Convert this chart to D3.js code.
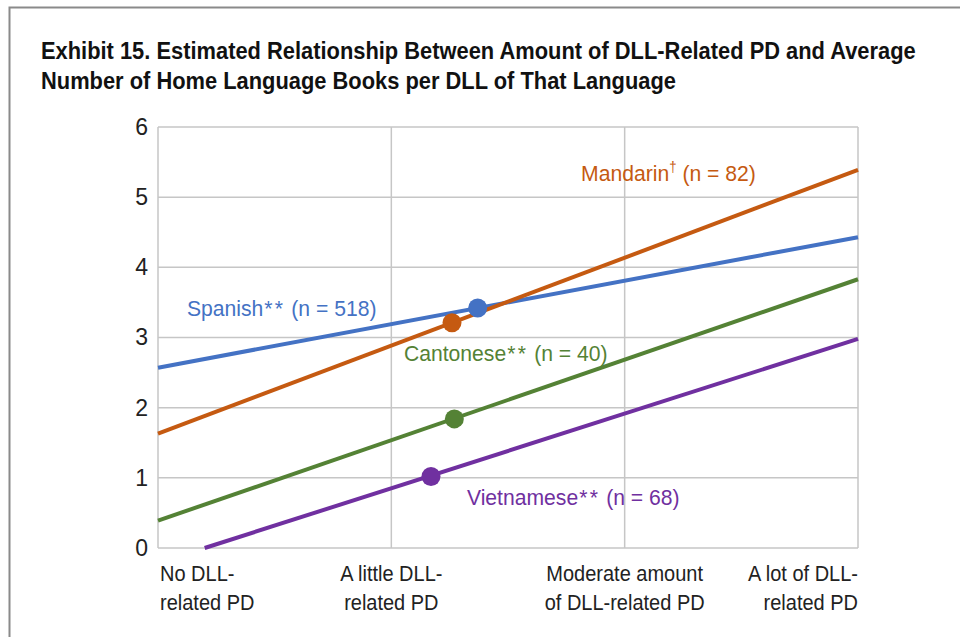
<!DOCTYPE html>
<html>
<head>
<meta charset="utf-8">
<script src="https://cdn.jsdelivr.net/npm/d3@7"></script>
<style>
  body { margin: 0; background: #fff; }
  svg { display: block; }
  text { font-family: "Liberation Sans", Arial, sans-serif; }
</style>
</head>
<body>
<div id="chart"></div>
<script>
const categories = ["No DLL-|related PD", "A little DLL-|related PD", "Moderate amount|of DLL-related PD", "A lot of DLL-|related PD"];
const yTicks = [0, 1, 2, 3, 4, 5, 6];

const seriesNames = ["Spanish", "Mandarin", "Cantonese", "Vietnamese"];
const seriesLabels = ["Spanish** (n = 518)", "Mandarin† (n = 82)", "Cantonese** (n = 40)", "Vietnamese** (n = 68)"];
const seriesColors = ["#4472C4", "#C55A11", "#548235", "#7030A0"];
// line start / end points [x, y], x on 0..3 category scale
const lineStart = [[0, 2.57], [0, 1.63], [0, 0.39], [0.2, 0]];
const lineEnd = [[3, 4.43], [3, 5.39], [3, 3.83], [3, 2.98]];
// sample-average markers
const dotPoints = [[1.37, 3.42], [1.26, 3.21], [1.27, 1.84], [1.17, 1.02]];
// label anchor positions (data units)
const labelPos = [[0.124, 3.3], [1.813, 5.23], [1.054, 2.665], [1.324, 0.613]];

const W = 960, H = 637;
const margin = { top: 127, right: 102, bottom: 89, left: 158 };
const width = W - margin.left - margin.right;
const height = H - margin.top - margin.bottom;
const narrow = 0.93; // horizontal squeeze to mimic the condensed face

const svg = d3.select("#chart").append("svg")
    .attr("width", W)
    .attr("height", H);

// outer frame (top and left edges)
svg.append("path")
    .attr("d", `M9.5,${H} L9.5,7.5 L${W},7.5`)
    .attr("fill", "none")
    .attr("stroke", "#8a8a8a")
    .attr("stroke-width", 2);

// title, squeezed to the reference width
const title = svg.append("text")
    .attr("font-weight", "bold")
    .attr("font-size", 24)
    .attr("fill", "#111");
const t1 = title.append("tspan").attr("x", 0).attr("y", 0)
    .text("Exhibit 15. Estimated Relationship Between Amount of DLL-Related PD and Average");
title.append("tspan").attr("x", 0).attr("y", 30)
    .text("Number of Home Language Books per DLL of That Language");
const titleK = 875 / t1.node().getComputedTextLength();
title.attr("transform", `translate(41,59) scale(${titleK},1)`);

const g = svg.append("g")
    .attr("transform", `translate(${margin.left},${margin.top})`);

const x = d3.scaleLinear().domain([0, 3]).range([0, width]);
const y = d3.scaleLinear().domain([0, 6]).range([height, 0]);

// horizontal gridlines
g.selectAll("line.hgrid")
    .data(yTicks)
    .join("line")
    .attr("class", "hgrid")
    .attr("x1", 0).attr("x2", width)
    .attr("y1", d => y(d)).attr("y2", d => y(d))
    .attr("stroke", "#c6c6c6")
    .attr("stroke-width", 1.5);

// vertical gridlines
g.selectAll("line.vgrid")
    .data(d3.range(categories.length))
    .join("line")
    .attr("class", "vgrid")
    .attr("x1", d => x(d)).attr("x2", d => x(d))
    .attr("y1", 0).attr("y2", height)
    .attr("stroke", "#c6c6c6")
    .attr("stroke-width", 1.5);

// y axis labels
const yAxis = d3.axisLeft(y).tickValues(yTicks).tickFormat(d3.format("d")).tickSize(0).tickPadding(10);
g.append("g").call(yAxis)
    .attr("font-family", null)
    .call(s => s.select(".domain").remove())
    .selectAll("text")
    .attr("font-size", 23)
    .attr("fill", "#222");

// x category labels
g.selectAll("text.xlab")
    .data(categories)
    .join("text")
    .attr("class", "xlab")
    .attr("font-size", 21.5)
    .attr("fill", "#222")
    .attr("text-anchor", (d, i) => i === 0 ? "start" : i === categories.length - 1 ? "end" : "middle")
    .attr("transform", (d, i) => `translate(${x(i) + (i === 0 ? 2 : 0)},${height + 33}) scale(${narrow},1)`)
    .each(function(d) {
        const t = d3.select(this);
        d.split("|").forEach((line, k) => {
            t.append("tspan").attr("x", 0).attr("y", k * 29).text(line);
        });
    });

// series lines
seriesNames.forEach((name, i) => {
    g.append("line")
        .attr("x1", x(lineStart[i][0])).attr("y1", y(lineStart[i][1]))
        .attr("x2", x(lineEnd[i][0])).attr("y2", y(lineEnd[i][1]))
        .attr("stroke", seriesColors[i])
        .attr("stroke-width", 4);
});

// markers
g.selectAll("circle.dot")
    .data(dotPoints)
    .join("circle")
    .attr("class", "dot")
    .attr("cx", d => x(d[0]))
    .attr("cy", d => y(d[1]))
    .attr("r", 9.5)
    .attr("fill", (d, i) => seriesColors[i]);

// series labels: asterisks get wider spacing, dagger is raised
seriesLabels.forEach((lab, i) => {
    const t = g.append("text")
        .attr("transform", `translate(${x(labelPos[i][0])},${y(labelPos[i][1])}) scale(0.94,1)`)
        .attr("font-size", 22.5)
        .attr("fill", seriesColors[i]);
    let drop = 0;
    lab.split(/(\*+|†)/).filter(s => s.length).forEach(seg => {
        if (seg === "†") {
            t.append("tspan").attr("font-size", 14).attr("dy", -9).text(seg);
            drop = 9;
        } else if (seg[0] === "*") {
            t.append("tspan").attr("letter-spacing", 2.5).attr("dx", 1).text(seg);
        } else {
            t.append("tspan").attr("dy", drop || null).text(seg);
            drop = 0;
        }
    });
});
</script>
</body>
</html>
